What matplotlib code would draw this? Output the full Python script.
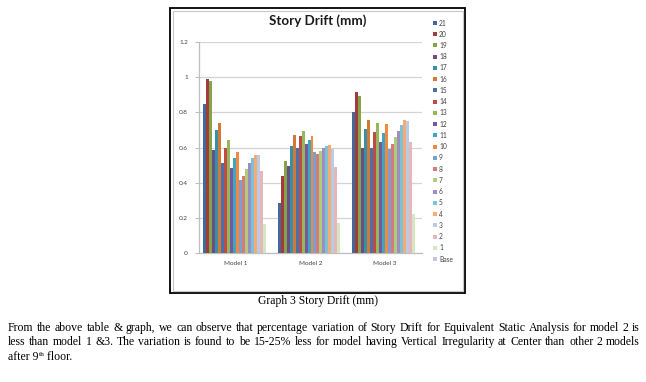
import numpy as np
import matplotlib
matplotlib.use("Agg")
import matplotlib.pyplot as plt
from matplotlib.patches import Rectangle
from matplotlib.transforms import Affine2D

W, H = 646, 382

models = ["Model 1", "Model 2", "Model 3"]
stories = ["21", "20", "19", "18", "17", "16", "15", "14", "13", "12", "11",
           "10", "9", "8", "7", "6", "5", "4", "3", "2", "1", "Base"]

# story drift (mm), one value per story, top story first
model_1 = [0.85, 0.987, 0.977, 0.585, 0.70, 0.742, 0.513, 0.60, 0.642, 0.481, 0.538,
           0.574, 0.415, 0.437, 0.477, 0.51, 0.538, 0.557, 0.555, 0.464, 0.165, 0.0]
model_2 = [0.282, 0.44, 0.523, 0.494, 0.606, 0.67, 0.598, 0.665, 0.693, 0.621, 0.644,
           0.668, 0.572, 0.563, 0.58, 0.598, 0.61, 0.614, 0.593, 0.489, 0.169, 0.0]
model_3 = [0.80, 0.913, 0.892, 0.595, 0.703, 0.758, 0.598, 0.688, 0.737, 0.629, 0.684,
           0.731, 0.593, 0.619, 0.657, 0.695, 0.729, 0.754, 0.748, 0.633, 0.222, 0.0]

colors = ["#40699C", "#A33B3A", "#86A24A", "#674E85", "#3A8FA8", "#D27A35",
          "#4571AD", "#BF4A47", "#94B85A", "#7658A0", "#40A5C3", "#F18A3D",
          "#7E9ED3", "#D27D7A", "#AECB7E", "#9E8DC0", "#79C3D8", "#F9AA70",
          "#B8CCE8", "#E5B8B7", "#D6E5C2", "#CCC1DA"]

caption = "Graph 3 Story Drift (mm)"
para_lines = [
    "From the above table & graph, we can observe that percentage variation of Story Drift for Equivalent Static Analysis for model 2 is",
    "less than model 1 &3. The variation is found to be 15-25% less for model having Vertical Irregularity at Center than other 2 models",
]
baselines = [331, 345, 360]

fig = plt.figure(figsize=(W / 100, H / 100), dpi=100)
fig.patch.set_facecolor("white")

# pixel coords (origin top-left) -> figure
px = Affine2D().scale(1 / W, -1 / H).translate(0, 1) + fig.transFigure

chart_font = "Lato"
doc_font = "Liberation Serif"

# chart frame
fig.add_artist(Rectangle((170, 8), 295, 285, transform=px, fill=False, ec="black", lw=1.3))
fig.add_artist(Rectangle((172.5, 10.5), 290, 280, transform=px, fill=False, ec="#C8C8C8", lw=0.8))

# plot area
ax = fig.add_axes([199 / W, 1 - 253 / H, (422 - 199) / W, (253 - 42) / H])
drift = np.array([model_1, model_2, model_3])
n = len(stories)
bw = 0.0402
x = np.arange(len(models))
for i, lab in enumerate(stories):
    ax.bar(x + (i - (n - 1) / 2) * bw, drift[:, i], width=bw, color=colors[i], label=lab, zorder=3)

ax.set_xlim(-0.5, 2.5)
ax.set_ylim(0, 1.2)
ax.set_yticks(np.arange(0, 1.21, 0.2))
ax.set_yticklabels(["0", "0.2", "0.4", "0.6", "0.8", "1", "1.2"])
ax.set_xticks(x)
ax.set_xticklabels(models)
ax.grid(axis="y", color="#D4D4D4", lw=0.9, zorder=0)
for s in ["top", "right"]:
    ax.spines[s].set_visible(False)
for s in ["left", "bottom"]:
    ax.spines[s].set_color("#BEBEBE")
    ax.spines[s].set_linewidth(0.9)
ax.tick_params(axis="y", length=3, color="#BEBEBE", pad=5, labelsize=4.6, labelcolor="#404040")
ax.tick_params(axis="x", length=0, pad=6, labelsize=4.6, labelcolor="#404040")
for t in ax.get_xticklabels() + ax.get_yticklabels():
    t.set_fontfamily(chart_font)

fig.text(318 / W, 1 - 21 / H, "Story Drift (mm)", ha="center", va="center",
         fontsize=9.6, fontweight="bold", family=chart_font, color="#1A1A1A")

# legend
for i, lab in enumerate(stories):
    yc = 23 + i * 11.24
    fig.add_artist(Rectangle((432.5, yc - 2), 4.5, 4, transform=px, color=colors[i], lw=0))
    fig.text(439 / W, 1 - yc / H, lab, ha="left", va="center", fontsize=4.8,
             family=chart_font, color="#404040")

# document text
fig.text(318 / W, 1 - 301 / H, caption, ha="center", va="center", fontsize=8.4,
         family=doc_font, color="black")

fig.canvas.draw()
r = fig.canvas.get_renderer()
x0, x1 = 8, 640

# pick paragraph size so the first line nearly fills the column
probe = fig.text(0, 0, para_lines[0], fontsize=10, family=doc_font)
fs = 10 * 622 / probe.get_window_extent(r).width
probe.remove()

# justified lines, placed word by word
for line, yb in zip(para_lines, baselines):
    words = line.split(" ")
    ts = [fig.text(0, 0, w, fontsize=fs, family=doc_font, va="baseline", ha="left") for w in words]
    ws = [t.get_window_extent(r).width for t in ts]
    gap = (x1 - x0 - sum(ws)) / (len(words) - 1)
    xp = x0
    for t, w in zip(ts, ws):
        t.set_position((xp / W, 1 - yb / H))
        xp += w + gap

yb = baselines[2]
t1 = fig.text(x0 / W, 1 - yb / H, "after 9", fontsize=fs, family=doc_font, va="baseline")
w1 = t1.get_window_extent(r).width
t2 = fig.text((x0 + w1) / W, 1 - (yb - 4) / H, "th", fontsize=fs * 0.62, family=doc_font, va="baseline")
w2 = t2.get_window_extent(r).width
fig.text((x0 + w1 + w2) / W, 1 - yb / H, " floor.", fontsize=fs, family=doc_font, va="baseline")

fig.savefig("out.png", dpi=100, facecolor="white")
